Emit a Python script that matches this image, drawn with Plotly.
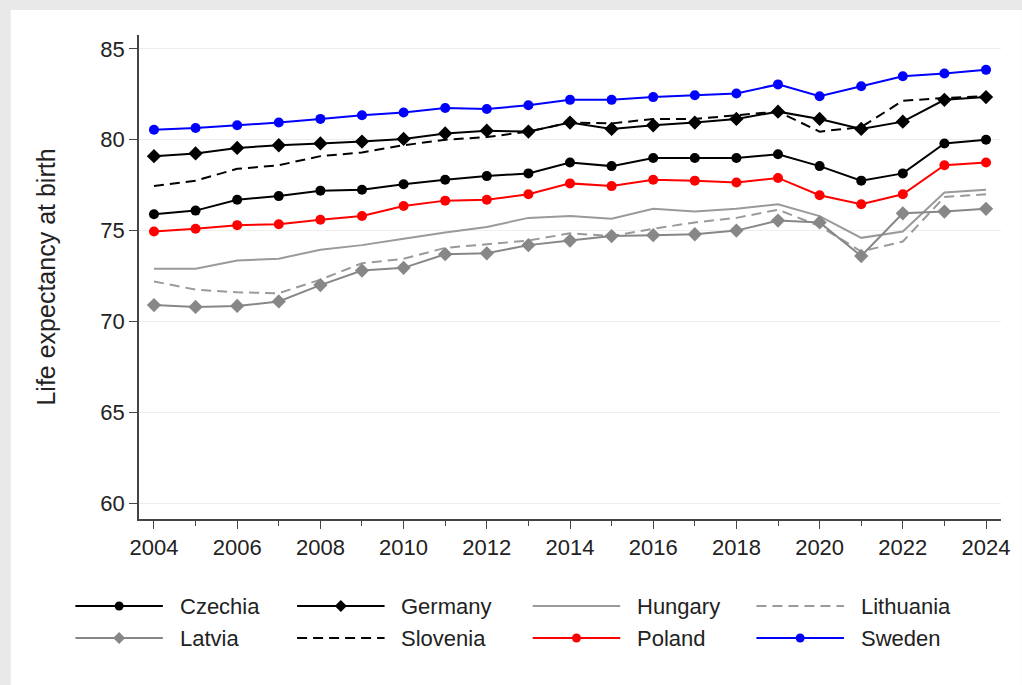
import plotly.graph_objects as go

# --- data (life expectancy at birth) ---
years = list(range(2004, 2025))

czechia = [75.9, 76.1, 76.7, 76.9, 77.2, 77.25, 77.55, 77.8, 78.0, 78.15, 78.75,
           78.55, 79.0, 79.0, 79.0, 79.2, 78.55, 77.75, 78.15, 79.8, 80.0]
germany = [79.1, 79.25, 79.55, 79.7, 79.8, 79.9, 80.05, 80.35, 80.5, 80.45, 80.95,
           80.6, 80.8, 80.95, 81.15, 81.55, 81.15, 80.6, 81.0, 82.2, 82.35]
hungary = [72.9, 72.9, 73.35, 73.45, 73.95, 74.2, 74.55, 74.9, 75.2, 75.7, 75.8,
           75.65, 76.2, 76.05, 76.2, 76.45, 75.8, 74.6, 74.95, 77.1, 77.25]
lithuania = [72.2, 71.75, 71.6, 71.55, 72.3, 73.2, 73.45, 74.05, 74.25, 74.45, 74.85,
             74.7, 75.1, 75.45, 75.7, 76.15, 75.25, 73.85, 74.4, 76.85, 77.0]
latvia = [70.9, 70.8, 70.85, 71.1, 72.0, 72.8, 72.95, 73.7, 73.75, 74.2, 74.45,
          74.7, 74.75, 74.8, 75.0, 75.55, 75.45, 73.6, 75.95, 76.05, 76.2]
slovenia = [77.45, 77.75, 78.4, 78.6, 79.1, 79.3, 79.7, 80.0, 80.15, 80.45, 80.95,
            80.9, 81.15, 81.15, 81.35, 81.55, 80.45, 80.7, 82.15, 82.3, 82.4]
poland = [74.95, 75.1, 75.3, 75.35, 75.6, 75.8, 76.35, 76.65, 76.7, 77.0, 77.6,
          77.45, 77.8, 77.75, 77.65, 77.9, 76.95, 76.45, 77.0, 78.6, 78.75]
sweden = [80.55, 80.65, 80.8, 80.95, 81.15, 81.35, 81.5, 81.75, 81.7, 81.9, 82.2,
          82.2, 82.35, 82.45, 82.55, 83.05, 82.4, 82.95, 83.5, 83.65, 83.85]

GRAY = "#878787"
LGRAY = "#9a9a9a"

# name, values, colour, dash, marker symbol (None = no marker)
series = [
    ("Czechia", czechia, "black", "solid", "circle"),
    ("Germany", germany, "black", "solid", "diamond"),
    ("Hungary", hungary, LGRAY, "solid", None),
    ("Lithuania", lithuania, LGRAY, "10px,6px", None),
    ("Latvia", latvia, GRAY, "solid", "diamond"),
    ("Slovenia", slovenia, "black", "10px,6px", None),
    ("Poland", poland, "#ff0000", "solid", "circle"),
    ("Sweden", sweden, "#0000ff", "solid", "circle"),
]

W, H = 1022, 685
ML, MR, MT, MB = 139, 16, 35, 166
PW, PH = W - ML - MR, H - MT - MB

def px2x(px):
    return (px - ML) / PW

def py2y(py):
    return (H - MB - py) / PH

fig = go.Figure()
for name, vals, col, dash, sym in series:
    fig.add_trace(go.Scatter(
        x=years, y=vals, name=name,
        mode="lines+markers" if sym else "lines",
        line=dict(color=col, width=2, dash=dash),
        marker=dict(symbol=sym or "circle", size=10 if sym == "circle" else 11,
                    color=col),
        showlegend=False,
    ))

# white panel on the grey page
shapes = [dict(type="rect", xref="paper", yref="paper", layer="below",
               x0=px2x(10), x1=px2x(W + 5), y0=py2y(H + 5), y1=py2y(10),
               fillcolor="white", line=dict(width=0))]
annotations = []

# hand-drawn legend (long line samples, 4 columns x 2 rows)
col_x = [75, 298, 535, 760]
row_y = [606, 638]
for i, (name, vals, col, dash, sym) in enumerate(series):
    x0 = col_x[i % 4]
    yy = py2y(row_y[i // 4])
    shapes.append(dict(type="line", xref="paper", yref="paper",
                       x0=px2x(x0), x1=px2x(x0 + 88), y0=yy, y1=yy,
                       line=dict(color=col, width=2, dash=dash)))
    cx = px2x(x0 + 44)
    if sym == "circle":
        shapes.append(dict(type="circle", xref="paper", yref="paper",
                           xsizemode="pixel", ysizemode="pixel",
                           xanchor=cx, yanchor=yy, x0=-4.5, x1=4.5, y0=-4.5, y1=4.5,
                           fillcolor=col, line=dict(color=col, width=0)))
    elif sym == "diamond":
        shapes.append(dict(type="path", xref="paper", yref="paper",
                           xsizemode="pixel", ysizemode="pixel",
                           xanchor=cx, yanchor=yy,
                           path="M 0 6 L 6 0 L 0 -6 L -6 0 Z",
                           fillcolor=col, line=dict(color=col, width=0)))
    annotations.append(dict(text=name, xref="paper", yref="paper",
                            x=px2x(x0 + 103), y=yy, xanchor="left", yanchor="middle",
                            showarrow=False, font=dict(size=22, color="#222")))

fig.update_layout(
    width=W, height=H,
    margin=dict(l=ML, r=MR, t=MT, b=MB),
    paper_bgcolor="#e9e9e9",
    plot_bgcolor="white",
    font=dict(family="Liberation Sans, Arial, sans-serif", color="#222", size=22),
    shapes=shapes,
    annotations=annotations,
    xaxis=dict(
        range=[2003.64, 2024.36], tickmode="linear", tick0=2004, dtick=2,
        ticks="outside", ticklen=8, tickwidth=1.2, tickcolor="#444",
        showline=True, linecolor="#444", linewidth=1.5,
        showgrid=False, zeroline=False,
        minor=dict(dtick=1, tick0=2004, ticks="outside", ticklen=5,
                   tickcolor="#444", showgrid=False),
        tickfont=dict(size=22),
    ),
    yaxis=dict(
        range=[59.12, 85.77], tickmode="linear", tick0=60, dtick=5,
        ticks="outside", ticklen=8, tickwidth=1.2, tickcolor="#444",
        showline=True, linecolor="#444", linewidth=1.5,
        showgrid=True, gridcolor="#eeeeee", gridwidth=1, zeroline=False,
        tickfont=dict(size=22),
        title=dict(text="Life expectancy at birth", font=dict(size=25), standoff=38),
    ),
)

# drop the page's default body margin so the figure sits at (0, 0),
# and keep the page exactly the size of the figure
fig.write_html("out.html", config={"displayModeBar": False}, post_script=(
    "document.body.style.margin='0';"
    "document.body.style.overflow='hidden';"
    "document.documentElement.style.overflow='hidden';"
    "document.body.style.background='#e9e9e9';"))
